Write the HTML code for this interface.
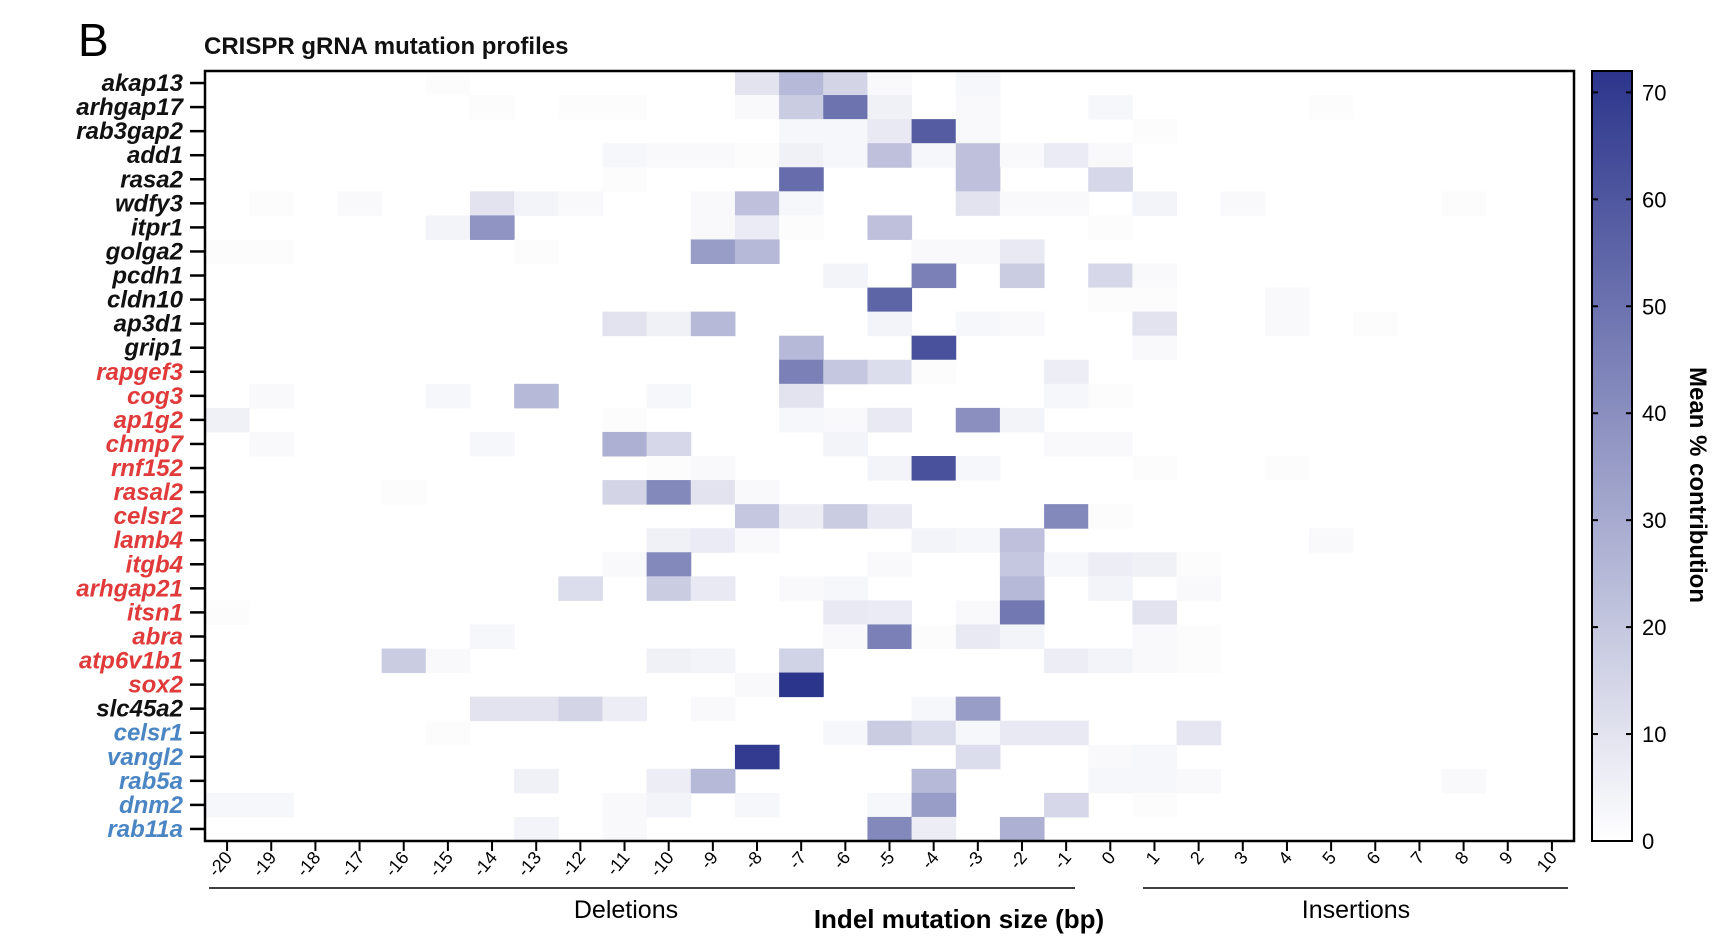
<!DOCTYPE html>
<html><head><meta charset="utf-8"><style>
html,body{margin:0;padding:0;background:#fff;}
svg{display:block;font-family:"Liberation Sans",sans-serif;}
</style></head><body>
<svg id="chart" width="1720" height="940" viewBox="0 0 1720 940">
<text x="78" y="56" font-size="46" fill="#000">B</text>
<text x="204" y="54" font-size="24" font-weight="bold" fill="#111">CRISPR gRNA mutation profiles</text>
<g id="cells"></g>
<g id="ylabels"></g>
<g id="xlabels"></g>
<rect x="205" y="71" width="1369" height="770" fill="none" stroke="#000" stroke-width="2.5"/>
<line x1="209" y1="888" x2="1075" y2="888" stroke="#000" stroke-width="1.5"/>
<line x1="1143" y1="888" x2="1568" y2="888" stroke="#000" stroke-width="1.5"/>
<text x="626" y="918" font-size="25" text-anchor="middle">Deletions</text>
<text x="1356" y="918" font-size="25" text-anchor="middle">Insertions</text>
<text x="959" y="928" font-size="26" font-weight="bold" text-anchor="middle">Indel mutation size (bp)</text>
<defs><linearGradient id="cbg" x1="0" y1="1" x2="0" y2="0">
<stop offset="0" stop-color="#ffffff"/><stop offset="1" stop-color="#2c358c"/></linearGradient></defs>
<rect x="1592" y="71" width="40" height="770" fill="url(#cbg)" stroke="#000" stroke-width="2"/>
<g id="cbticks"></g>
<text transform="translate(1690,485) rotate(90)" font-size="24" font-weight="bold" text-anchor="middle">Mean % contribution</text>
</svg>
<script>
const genes = ["akap13","arhgap17","rab3gap2","add1","rasa2","wdfy3","itpr1","golga2","pcdh1","cldn10","ap3d1","grip1","rapgef3","cog3","ap1g2","chmp7","rnf152","rasal2","celsr2","lamb4","itgb4","arhgap21","itsn1","abra","atp6v1b1","sox2","slc45a2","celsr1","vangl2","rab5a","dnm2","rab11a"];
const geneGroups = ["k","k","k","k","k","k","k","k","k","k","k","k","r","r","r","r","r","r","r","r","r","r","r","r","r","r","k","b","b","b","b","b"];
const sizes = [-20,-19,-18,-17,-16,-15,-14,-13,-12,-11,-10,-9,-8,-7,-6,-5,-4,-3,-2,-1,0,1,2,3,4,5,6,7,8,9,10];
const colorTicks = [0,10,20,30,40,50,60,70];
const colorMax = 72;
// sparse values per gene: [indel size, mean % contribution]
const cellValues = [
 [[-15,1],[-8,10],[-7,25],[-6,15],[-5,2],[-3,3]],
 [[-14,1],[-12,1],[-11,1],[-8,2],[-7,18],[-6,50],[-5,5],[-3,2],[0,3],[5,1]],
 [[-7,3],[-6,3],[-5,8],[-4,58],[-3,2],[1,1]],
 [[-11,3],[-10,2],[-9,2],[-8,1],[-7,5],[-6,3],[-5,22],[-4,3],[-3,22],[-2,2],[-1,7],[0,2]],
 [[-11,1],[-7,52],[-3,22],[0,14]],
 [[-19,1],[-17,2],[-14,10],[-13,4],[-12,2],[-9,2],[-8,22],[-7,3],[-3,10],[-2,2],[-1,2],[1,4],[3,2],[8,1]],
 [[-15,4],[-14,38],[-9,2],[-8,7],[-7,1],[-5,22],[0,1]],
 [[-20,1],[-19,1],[-13,1],[-9,35],[-8,25],[-4,2],[-3,2],[-2,8]],
 [[-6,4],[-4,45],[-2,18],[0,14],[1,2]],
 [[-5,55],[0,1],[1,1],[4,2]],
 [[-11,10],[-10,5],[-9,25],[-5,4],[-3,3],[-2,2],[1,10],[4,2],[6,1]],
 [[-7,25],[-4,62],[1,2]],
 [[-7,45],[-6,20],[-5,12],[-4,1],[-1,6]],
 [[-19,2],[-15,3],[-13,25],[-10,3],[-7,10],[-1,3],[0,1]],
 [[-20,5],[-11,1],[-7,3],[-6,2],[-5,8],[-3,40],[-2,4]],
 [[-19,2],[-14,3],[-11,28],[-10,14],[-6,4],[-1,2],[0,2]],
 [[-10,1],[-9,2],[-5,4],[-4,62],[-3,3],[1,1],[4,1]],
 [[-16,1],[-11,15],[-10,42],[-9,10],[-8,2]],
 [[-8,20],[-7,6],[-6,18],[-5,8],[-1,42],[0,1]],
 [[-10,5],[-9,7],[-8,2],[-4,4],[-3,3],[-2,22],[5,2]],
 [[-11,2],[-10,42],[-5,2],[-2,20],[-1,3],[0,6],[1,5],[2,1]],
 [[-12,12],[-10,18],[-9,8],[-7,2],[-6,3],[-2,25],[0,4],[2,2]],
 [[-20,1],[-6,8],[-5,7],[-3,2],[-2,48],[1,10]],
 [[-14,3],[-6,2],[-5,45],[-4,1],[-3,8],[-2,4],[1,2],[2,1]],
 [[-16,18],[-15,2],[-10,5],[-9,4],[-7,16],[-1,6],[0,4],[1,2],[2,1]],
 [[-8,2],[-7,72]],
 [[-14,10],[-13,10],[-12,15],[-11,6],[-9,2],[-4,3],[-3,35]],
 [[-15,1],[-6,3],[-5,18],[-4,12],[-3,3],[-2,8],[-1,8],[2,9]],
 [[-8,70],[-3,12],[0,2],[1,3]],
 [[-13,5],[-10,6],[-9,25],[-4,25],[0,3],[1,3],[2,2],[8,2]],
 [[-20,3],[-19,3],[-11,2],[-10,4],[-8,3],[-5,3],[-4,35],[-1,14],[1,1]],
 [[-13,4],[-11,2],[-5,42],[-4,6],[-2,28]]
];
const NS="http://www.w3.org/2000/svg";
const PL=205,PR=1574,PT=71,PB=841;
const cw=(PR-PL)/sizes.length, rh=(PB-PT)/genes.length;
function xOf(s){return PL+sizes.indexOf(s)*cw;}
function yOf(i){return PT+i*rh;}
function cbY(v){return PB-(v/colorMax)*(PB-PT);}
function color(v){const t=Math.min(1,v/colorMax);
 const r=Math.round(255+(44-255)*t),g=Math.round(255+(53-255)*t),b=Math.round(255+(140-255)*t);
 return `rgb(${r},${g},${b})`;}
const groupColor={k:"#111",r:"#e03a3a",b:"#4a85c4"};
const cells=document.getElementById('cells');
cellValues.forEach((row,i)=>{row.forEach(([s,v])=>{
 const r=document.createElementNS(NS,'rect');
 r.setAttribute('x',xOf(s));r.setAttribute('y',yOf(i));
 r.setAttribute('width',cw+0.5);r.setAttribute('height',rh+0.5);
 r.setAttribute('fill',color(v));
 
 
 cells.appendChild(r);});});
const yl=document.getElementById('ylabels');
genes.forEach((g,i)=>{
 const cy=yOf(i)+rh/2;
 const t=document.createElementNS(NS,'text');
 t.setAttribute('x',183);t.setAttribute('y',cy+8);
 t.setAttribute('text-anchor','end');t.setAttribute('font-size','24');
 t.setAttribute('font-weight','bold');t.setAttribute('font-style','italic');
 t.setAttribute('fill',groupColor[geneGroups[i]]);
 t.textContent=g;
 
 
 yl.appendChild(t);
 const l=document.createElementNS(NS,'line');
 l.setAttribute('x1',190);l.setAttribute('x2',205);l.setAttribute('y1',cy);l.setAttribute('y2',cy);
 l.setAttribute('stroke','#000');l.setAttribute('stroke-width','2.5');
 
 
 yl.appendChild(l);});
const xl=document.getElementById('xlabels');
sizes.forEach(s=>{
 const cx=xOf(s)+cw/2;
 const l=document.createElementNS(NS,'line');
 l.setAttribute('x1',cx);l.setAttribute('x2',cx);l.setAttribute('y1',841);l.setAttribute('y2',851);
 l.setAttribute('stroke','#000');l.setAttribute('stroke-width','2');
 
 
 xl.appendChild(l);
 const t=document.createElementNS(NS,'text');
 t.setAttribute('transform',`translate(${cx+6},${858}) rotate(-50)`);
 t.setAttribute('text-anchor','end');t.setAttribute('font-size','18');
 t.textContent=String(s);
 
 
 xl.appendChild(t);});
const cb=document.getElementById('cbticks');
colorTicks.forEach(v=>{
 const y=cbY(v);
 [[1592,1598],[1626,1632]].forEach(([a,b])=>{
  const l=document.createElementNS(NS,'line');
  l.setAttribute('x1',a);l.setAttribute('x2',b);l.setAttribute('y1',y);l.setAttribute('y2',y);
  l.setAttribute('stroke','#000');l.setAttribute('stroke-width','2');
  
  
  cb.appendChild(l);});
 const t=document.createElementNS(NS,'text');
 t.setAttribute('x',1642);t.setAttribute('y',y+8);t.setAttribute('font-size','22');
 t.textContent=String(v);
 
 
 cb.appendChild(t);});
</script>
</body></html>
